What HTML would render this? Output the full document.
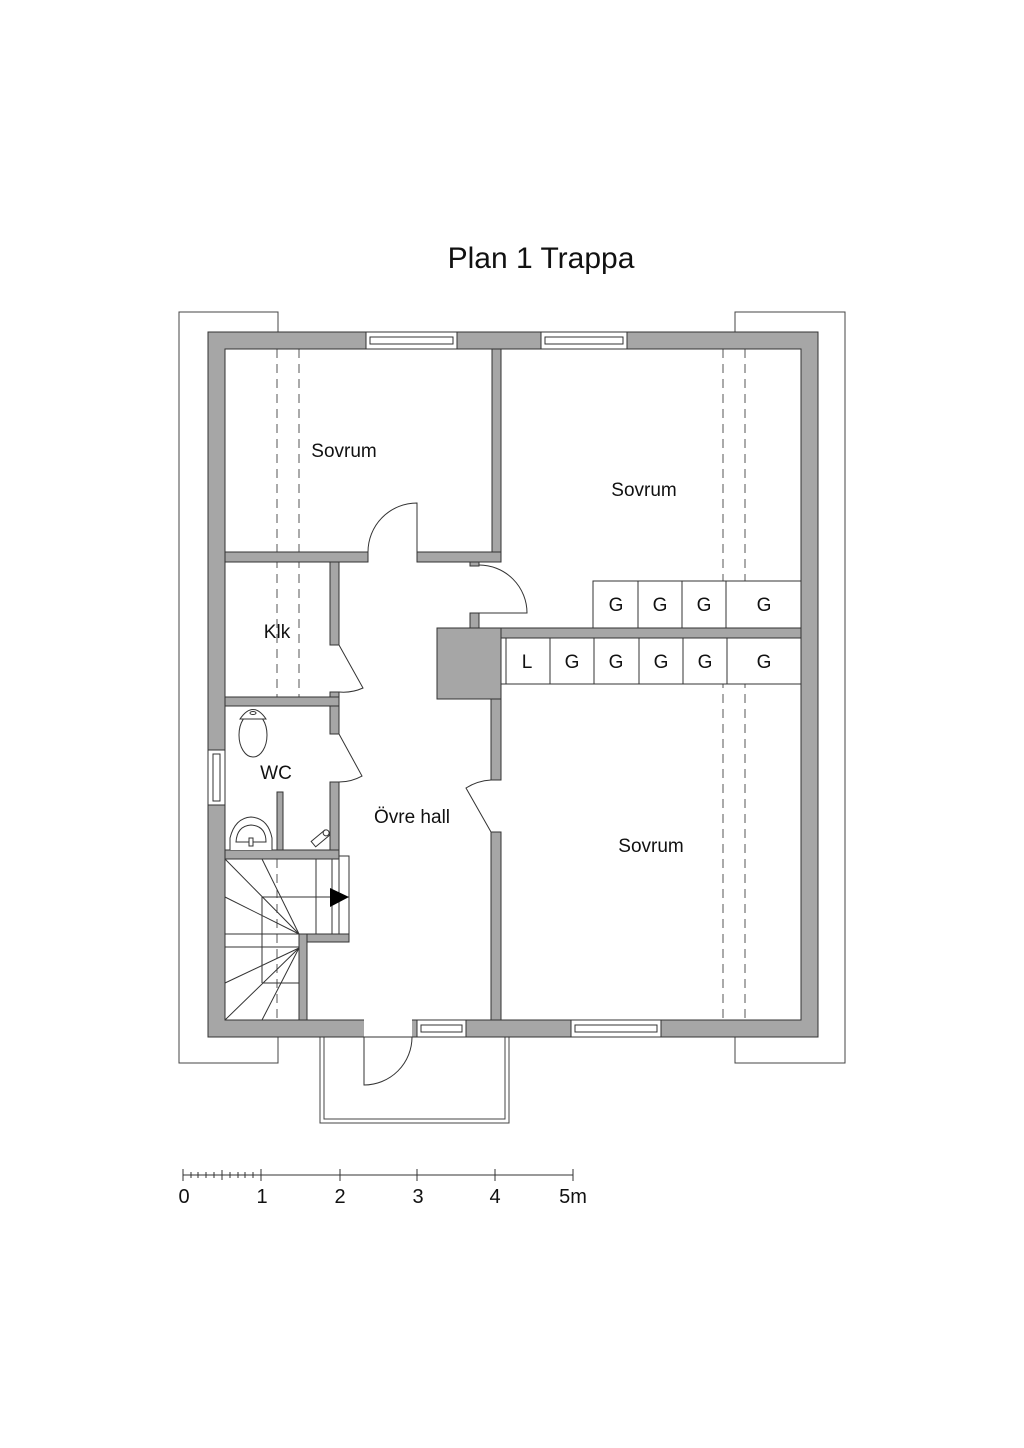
<!DOCTYPE html>
<html><head><meta charset="utf-8"><style>
html,body{margin:0;padding:0;background:#fff;}
svg{display:block;}
text{font-family:"Liberation Sans",sans-serif;fill:#111;}
</style></head><body>
<svg width="1024" height="1448" viewBox="0 0 1024 1448" xmlns="http://www.w3.org/2000/svg">
<text x="541" y="268" font-size="30" text-anchor="middle">Plan 1 Trappa</text>
<g fill="none" stroke="#444" stroke-width="1">
<path d="M278,332 V312 H179 V1063 H278 V1037"/>
<path d="M735,332 V312 H845 V1063 H735 V1037"/>
<path d="M320,1037 V1123 H509 V1037"/>
<path d="M324,1037 V1119 H505 V1037"/>
</g>
<g stroke="#555" stroke-width="1" stroke-dasharray="9,6" fill="none">
<line x1="277" y1="349" x2="277" y2="697"/>
<line x1="299" y1="349" x2="299" y2="697"/>
<line x1="277" y1="859" x2="277" y2="1020"/>
<line x1="723" y1="349" x2="723" y2="1020"/>
<line x1="745" y1="349" x2="745" y2="1020"/>
</g>
<g fill="#a6a6a6" stroke="#333" stroke-width="1">
<path fill-rule="evenodd" d="M208,332 H818 V1037 H208 Z M225,349 V1020 H801 V349 Z"/>
<rect x="492" y="349" width="9" height="213"/>
<rect x="225" y="552" width="143" height="10"/>
<rect x="417" y="552" width="84" height="10"/>
<rect x="470" y="562" width="9" height="4"/>
<rect x="470" y="613" width="9" height="15"/>
<rect x="479" y="628" width="322" height="10"/>
<rect x="437" y="628" width="64" height="71"/>
<rect x="491" y="699" width="10" height="81"/>
<rect x="491" y="832" width="10" height="188"/>
<rect x="330" y="562" width="9" height="83"/>
<rect x="330" y="692" width="9" height="42"/>
<rect x="225" y="697" width="114" height="9"/>
<rect x="330" y="782" width="9" height="77"/>
<rect x="225" y="850" width="114" height="9"/>
<rect x="277" y="792" width="6" height="58"/>
<rect x="299" y="934" width="50" height="8"/>
<rect x="299" y="934" width="8" height="86"/>
</g>
<g fill="#fff" stroke="#333" stroke-width="1">
<rect x="366" y="332" width="91" height="17"/>
<rect x="370" y="337" width="83" height="7"/>
<rect x="541" y="332" width="86" height="17"/>
<rect x="545" y="337" width="78" height="7"/>
<rect x="571" y="1020" width="90" height="17"/>
<rect x="575" y="1025" width="82" height="7"/>
<rect x="417" y="1020" width="49" height="17"/>
<rect x="421" y="1025" width="41" height="7"/>
<rect x="208" y="750" width="17" height="55"/>
<rect x="213" y="754" width="7" height="47"/>
<rect x="364" y="1019" width="48" height="19" stroke="none"/>
<line x1="364" y1="1037" x2="412" y2="1037"/>
</g>
<g fill="none" stroke="#333" stroke-width="1">
<path d="M417,552 V503 A49,49 0 0 0 368,552"/>
<path d="M479,613 H527 A48,48 0 0 0 479,565"/>
<path d="M339,645 L363,688 A48,48 0 0 1 339,692"/>
<path d="M339,734 L362,776 A48,48 0 0 1 339,782"/>
<path d="M491,832 L466,788 A52,52 0 0 1 491,780"/>
<path d="M364,1037 V1085 A48,48 0 0 0 412,1037"/>
</g>
<g fill="#fff" stroke="#333" stroke-width="1">
<rect x="593" y="581" width="208" height="47"/>
<line x1="638" y1="581" x2="638" y2="628"/>
<line x1="682" y1="581" x2="682" y2="628"/>
<line x1="726" y1="581" x2="726" y2="628"/>
<rect x="501" y="638" width="300" height="46"/>
<line x1="506" y1="638" x2="506" y2="684"/>
<line x1="550" y1="638" x2="550" y2="684"/>
<line x1="594" y1="638" x2="594" y2="684"/>
<line x1="639" y1="638" x2="639" y2="684"/>
<line x1="683" y1="638" x2="683" y2="684"/>
<line x1="727" y1="638" x2="727" y2="684"/>
</g>
<g font-size="19" text-anchor="middle">
<text x="616" y="611">G</text><text x="660" y="611">G</text><text x="704" y="611">G</text><text x="764" y="611">G</text>
<text x="527" y="668">L</text><text x="572" y="668">G</text><text x="616" y="668">G</text><text x="661" y="668">G</text><text x="705" y="668">G</text><text x="764" y="668">G</text>
</g>
<g fill="none" stroke="#333" stroke-width="1">
<line x1="316" y1="859" x2="316" y2="934"/>
<line x1="332" y1="859" x2="332" y2="934"/>
<rect x="339" y="856" width="10" height="78" fill="#fff"/>
<line x1="262" y1="897" x2="349" y2="897"/>
<line x1="262" y1="897" x2="262" y2="983"/>
<line x1="262" y1="983" x2="299" y2="983"/>
<line x1="225" y1="934" x2="299" y2="934"/>
<line x1="225" y1="947" x2="299" y2="947"/>
<line x1="299" y1="934" x2="262" y2="859"/>
<line x1="299" y1="934" x2="225" y2="859"/>
<line x1="299" y1="934" x2="225" y2="897"/>
<line x1="299" y1="948" x2="225" y2="983"/>
<line x1="299" y1="948" x2="225" y2="1020"/>
<line x1="299" y1="948" x2="262" y2="1020"/>
</g>
<polygon points="330,888 349,897 330,907" fill="#000"/>
<g fill="#fff" stroke="#333" stroke-width="1">
<ellipse cx="253" cy="735" rx="14" ry="22"/>
<path d="M240,719 Q253,700 266,719 Z"/>
<ellipse cx="253" cy="713" rx="3" ry="1.5"/>
<path d="M230,850 V838 Q235,818 251,817 Q268,818 272,838 V850"/>
<path d="M236,842 Q237,826 251,825 Q266,826 266,842 Z"/>
<rect x="249" y="838" width="4" height="8"/>
<g transform="translate(320,838) rotate(-40)"><rect x="-9" y="-3" width="18" height="7"/><circle cx="8" cy="0" r="3"/></g>
</g>
<g font-size="19" text-anchor="middle">
<text x="344" y="457">Sovrum</text>
<text x="644" y="496">Sovrum</text>
<text x="277" y="638">Klk</text>
<text x="276" y="779">WC</text>
<text x="412" y="823">Övre hall</text>
<text x="651" y="852">Sovrum</text>
</g>
<g stroke="#333" stroke-width="1">
<line x1="183" y1="1175" x2="573" y2="1175"/>
<line x1="183" y1="1169" x2="183" y2="1181"/>
<line x1="261" y1="1169" x2="261" y2="1181"/>
<line x1="340" y1="1169" x2="340" y2="1181"/>
<line x1="417" y1="1169" x2="417" y2="1181"/>
<line x1="495" y1="1169" x2="495" y2="1181"/>
<line x1="573" y1="1169" x2="573" y2="1181"/>
<line x1="191" y1="1172" x2="191" y2="1178"/><line x1="198" y1="1172" x2="198" y2="1178"/><line x1="206" y1="1172" x2="206" y2="1178"/><line x1="214" y1="1172" x2="214" y2="1178"/><line x1="222" y1="1170" x2="222" y2="1180"/><line x1="230" y1="1172" x2="230" y2="1178"/><line x1="238" y1="1172" x2="238" y2="1178"/><line x1="245" y1="1172" x2="245" y2="1178"/><line x1="253" y1="1172" x2="253" y2="1178"/>
</g>
<g font-size="20" text-anchor="middle">
<text x="184" y="1203">0</text><text x="262" y="1203">1</text><text x="340" y="1203">2</text><text x="418" y="1203">3</text><text x="495" y="1203">4</text><text x="573" y="1203">5m</text>
</g>
</svg>
</body></html>
